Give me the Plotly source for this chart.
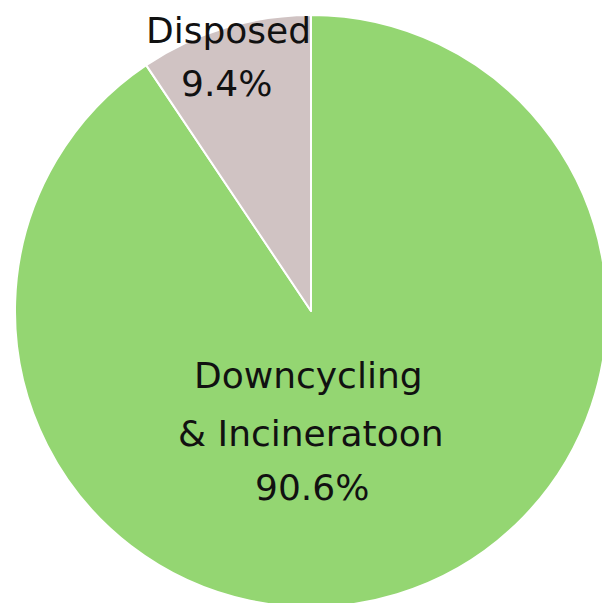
import plotly.graph_objects as go

W, H = 610, 603
OFF = 8  # page body margin offset

categories = ["Downcycling & Incineratoon", "Disposed"]
values = [90.6, 9.4]
colors = ["#94D672", "#D0C3C3"]

# label lines: (text, x_px, y_px of cap center) in screenshot pixels
label_lines = [
    ("9.4%", 226, 83),
    ("Downcycling", 308, 375),
    ("& Incineratoon", 311, 433),
    ("90.6%", 312, 487),
]

cx, cy, r = 311 - OFF, 311 - OFF, 296

fig = go.Figure(go.Pie(
    labels=categories,
    values=values,
    sort=False,
    direction="clockwise",
    rotation=0,
    marker=dict(colors=colors, line=dict(color="white", width=2)),
    textinfo="none",
    hoverinfo="label+percent",
    showlegend=False,
    domain=dict(x=[(cx - r) / W, (cx + r) / W],
                y=[max(0, (H - cy - r) / H), (H - cy + r) / H]),
))

FONT = dict(family="DejaVu Sans", size=36, color="#111111")

fig.add_annotation(
    text="Disposed", x=(228 - OFF) / W, y=1, xref="paper", yref="paper",
    xanchor="center", yanchor="top", showarrow=False, font=FONT,
)

for text, px, py in label_lines:
    fig.add_annotation(
        text=text, x=(px - OFF) / W, y=1 - (py - OFF) / H, xref="paper", yref="paper",
        xanchor="center", yanchor="middle", showarrow=False, font=FONT,
    )

fig.update_layout(
    width=W, height=H,
    margin=dict(l=0, r=0, t=0, b=0),
    paper_bgcolor="white", plot_bgcolor="white",
)

fig.write_html("out.html")
